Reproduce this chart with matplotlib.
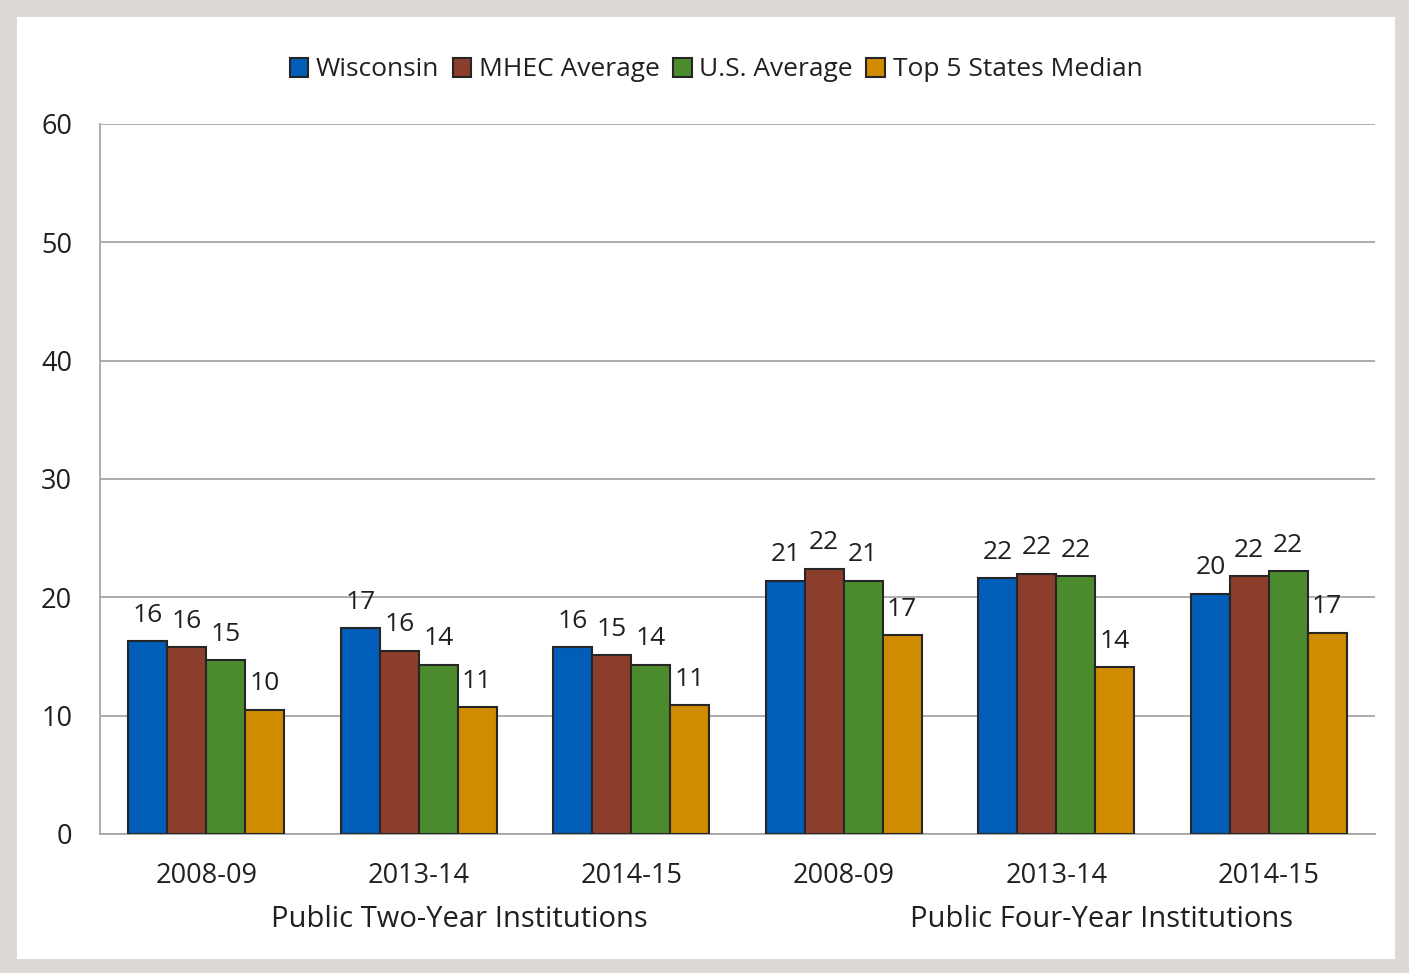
import numpy as np
import matplotlib
matplotlib.use('Agg')
import matplotlib.pyplot as plt
from matplotlib.patches import Rectangle

plt.rcParams['font.family'] = ['Open Sans', 'DejaVu Sans']

years = ['2008-09', '2013-14', '2014-15', '2008-09', '2013-14', '2014-15']
groups = ['Public Two-Year Institutions', 'Public Four-Year Institutions']
series = ['Wisconsin', 'MHEC Average', 'U.S. Average', 'Top 5 States Median']
wisconsin = [16.3, 17.4, 15.8, 21.4, 21.6, 20.3]
mhec = [15.8, 15.5, 15.1, 22.4, 22.0, 21.8]
us_avg = [14.7, 14.3, 14.3, 21.4, 21.8, 22.2]
top5 = [10.5, 10.7, 10.9, 16.8, 14.1, 17.0]
colors = ['#005EB8', '#8C3E2D', '#4C8B2D', '#D18B00']

text_col = '#231F20'
grid_col = '#A6A6A6'

fig = plt.figure(figsize=(14.09, 9.73), dpi=100)
W, H = 1409, 973

# grey frame with white panel
fig.patch.set_facecolor('#DCD9D6')
fig.add_artist(Rectangle((17 / W, 14 / H), (1395 - 17) / W, (956 - 14) / H,
                         transform=fig.transFigure, facecolor='white',
                         edgecolor='none', zorder=0))

ax = fig.add_axes([100 / W, 1 - 834 / H, (1375 - 100) / W, (834 - 124) / H])
ax.set_facecolor('none')

x = np.arange(len(years))
width = 0.183
data = [wisconsin, mhec, us_avg, top5]
for i, (vals, c, name) in enumerate(zip(data, colors, series)):
    pos = x + (i - 1.5) * width
    bars = ax.bar(pos, vals, width, color=c, edgecolor='#262626',
                  linewidth=1.5, label=name, zorder=3)
    for b, v in zip(bars, vals):
        ax.annotate('{:.0f}'.format(v), (b.get_x() + b.get_width() / 2, v),
                    xytext=(0, 14), textcoords='offset points',
                    ha='center', va='baseline', fontsize=19, color=text_col)

ax.set_xlim(-0.5, len(years) - 0.5)
ax.set_ylim(0, 60)
ax.set_yticks(range(0, 61, 10))
ax.yaxis.grid(True, color=grid_col, linewidth=1.3, zorder=0)
ax.set_axisbelow(True)
for s in ['top', 'right']:
    ax.spines[s].set_visible(False)
for s in ['left', 'bottom']:
    ax.spines[s].set_color(grid_col)
    ax.spines[s].set_linewidth(1.3)
ax.tick_params(axis='both', length=0, labelsize=19.5, labelcolor=text_col)
ax.tick_params(axis='y', pad=20)
ax.tick_params(axis='x', pad=20)
ax.set_xticks(x)
ax.set_xticklabels(years)

ax.text(1.19, -0.12, groups[0], transform=ax.get_xaxis_transform(),
        ha='center', va='center', fontsize=21, color=text_col)
ax.text(4.215, -0.12, groups[1], transform=ax.get_xaxis_transform(),
        ha='center', va='center', fontsize=21, color=text_col)

leg = fig.legend(loc='center', bbox_to_anchor=(716 / W, 1 - 70 / H), ncol=4,
                 frameon=False, fontsize=19, handlelength=0.7,
                 handleheight=0.7, handletextpad=0.3, columnspacing=0.5,
                 labelcolor=text_col)

fig.savefig('out.png', dpi=100, facecolor=fig.get_facecolor())
